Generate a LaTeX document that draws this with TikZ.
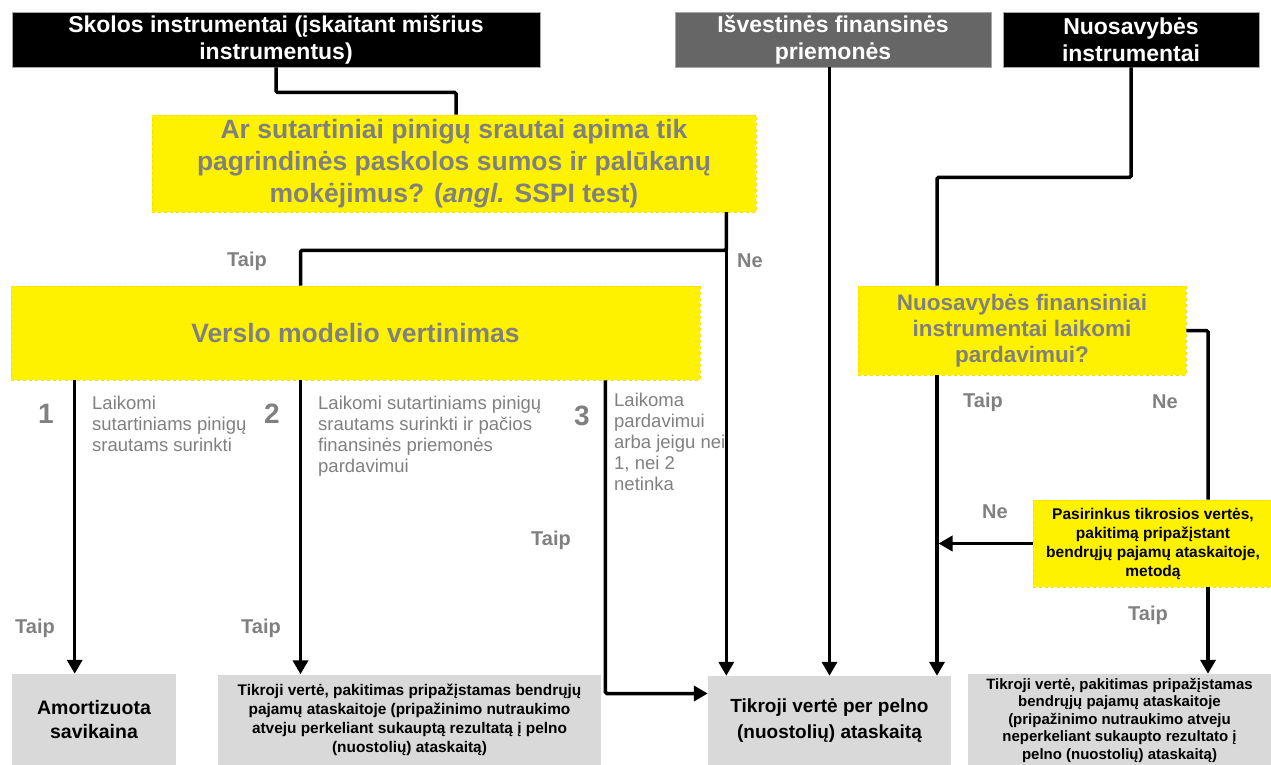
\documentclass[tikz,border=0pt]{standalone}
\usepackage{fontspec}
\setmainfont{Liberation Sans}
\usetikzlibrary{arrows.meta,positioning}
\definecolor{bright}{HTML}{FFF200}
\definecolor{textgray}{HTML}{808080}
\definecolor{boxgray}{HTML}{D9D9D9}
\definecolor{darkgray}{HTML}{666666}
\definecolor{frame}{HTML}{A6A6A6}
\tikzset{
  header/.style={
    draw=frame, line width=0.8pt, fill=black, text=white, align=center,
    font=\fontsize{23}{27}\selectfont\bfseries, inner sep=0pt, minimum height=55pt
  },
  question/.style={
    fill=bright, draw=bright!80!orange, dashed, line width=0.6pt, text=textgray,
    align=center, inner sep=0pt
  },
  result/.style={fill=boxgray, align=center, inner sep=0pt},
  link/.style={draw=black, line width=3.5pt, rounded corners=1.5pt},
  arrow/.style={link, -{Triangle[length=14pt,width=15pt]}},
  answer/.style={text=textgray, font=\fontsize{20}{24}\selectfont\bfseries, inner sep=0pt},
  number/.style={text=textgray, font=\fontsize{28}{30}\selectfont\bfseries, inner sep=0pt},
  note/.style={text=textgray, font=\fontsize{18.5}{21}\selectfont, align=left, anchor=north west, inner sep=0pt}
}
\begin{document}
\begin{tikzpicture}[x=1pt, y=-1pt]
  \useasboundingbox (0,0) rectangle (1271,765);

  % Instrument types
  \node[header, minimum width=528pt] (debt) at (276,39.5) {Skolos instrumentai (įskaitant mišrius\\instrumentus)};
  \node[header, fill=darkgray, minimum width=316pt] (deriv) at (833,39.5) {Išvestinės finansinės\\priemonės};
  \node[header, minimum width=256pt] (equity) at (1131,39.5) {Nuosavybės\\instrumentai};

  % Tests
  \node[question, minimum width=604pt, minimum height=97pt, font=\fontsize{26.5}{32}\selectfont\bfseries] (sppi) at (454,163.5) {Ar sutartiniai pinigų srautai apima tik\\pagrindinės paskolos sumos ir palūkanų\\mokėjimus? (\textit{angl.} SSPI test)};
  \node[question, minimum width=689pt, minimum height=94pt, font=\fontsize{26.5}{32}\selectfont\bfseries] (model) at (355.5,333) {Verslo modelio vertinimas};
  \node[question, minimum width=328pt, minimum height=89pt, font=\fontsize{22.5}{26}\selectfont\bfseries] (trading) at (1022,330.5) {Nuosavybės finansiniai\\instrumentai laikomi\\pardavimui?};
  \node[question, minimum width=240pt, minimum height=87pt, text=black, font=\fontsize{15.5}{19}\selectfont\bfseries] (option) at (1153,543.5) {Pasirinkus tikrosios vertės,\\pakitimą pripažįstant\\bendrųjų pajamų ataskaitoje,\\metodą};

  % Measurement results
  \node[result, minimum width=164pt, minimum height=91pt, font=\fontsize{19.5}{24}\selectfont\bfseries] (amort) at (94,719.5) {Amortizuota\\savikaina};
  \node[result, minimum width=383pt, minimum height=91pt, font=\fontsize{15.4}{19}\selectfont\bfseries] (fvoci) at (409.5,720) {Tikroji vertė, pakitimas pripažįstamas bendrųjų\\pajamų ataskaitoje (pripažinimo nutraukimo\\atveju perkeliant sukauptą rezultatą į pelno\\(nuostolių) ataskaitą)};
  \node[result, minimum width=243pt, minimum height=89pt, font=\fontsize{19}{26}\selectfont\bfseries] (fvpl) at (829.5,720.5) {Tikroji vertė per pelno\\(nuostolių) ataskaitą};
  \node[result, minimum width=303pt, minimum height=92pt, font=\fontsize{15}{17.5}\selectfont\bfseries] (fvocieq) at (1119.5,720) {Tikroji vertė, pakitimas pripažįstamas\\bendrųjų pajamų ataskaitoje\\(pripažinimo nutraukimo atveju\\neperkeliant sukaupto rezultato į\\pelno (nuostolių) ataskaitą)};

  % Branch columns
  \coordinate (nocol) at ([xshift=-30pt]sppi.south east);
  \coordinate (eqcol) at ([xshift=-85pt]trading.south);
  \coordinate (optcol) at ([xshift=55pt]option.north);

  % Connections
  \draw[link] (debt.south) -- ++(0,25) -| ([xshift=2pt]sppi.north);
  \draw[arrow] (fvpl.north |- deriv.south) -- (fvpl.north);
  \draw[link] (equity.south) -- ++(0,110) -| ([xshift=-85pt]trading.north);
  \draw[link] (nocol) -- ++(0,38) -| ([xshift=-55pt]model.north);
  \draw[arrow] (nocol) -- (nocol |- fvpl.north);
  \draw[arrow] ([xshift=64pt]model.south west) -- ([xshift=64pt]model.south west |- amort.north);
  \draw[arrow] ([xshift=-55pt]model.south) -- ([xshift=-55pt]model.south |- fvoci.north);
  \draw[arrow] ([xshift=-95pt]model.south east) |- ([yshift=27pt]fvpl.west);
  \draw[arrow] (eqcol) -- (eqcol |- fvpl.north);
  \draw[link] (trading.east) -| (optcol);
  \draw[arrow] (optcol |- option.south) -- (optcol |- fvocieq.north);
  \draw[arrow] (option.west) -- ([xshift=1.5pt]option.west -| eqcol);

  % Answers
  \node[answer] (yes1) at (247,261) {Taip};
  \node[answer] (no1) at (750,261) {Ne};
  \node[number] (n1) at (46,414) {1};
  \node[number] (n2) at (272,414) {2};
  \node[number] (n3) at (582,416) {3};
  \node[note] (c1) at (92,396) {Laikomi\\sutartiniams pinigų\\srautams surinkti};
  \node[note] (c2) at (318,396) {Laikomi sutartiniams pinigų\\srautams surinkti ir pačios\\finansinės priemonės\\pardavimui};
  \node[note] (c3) at (614,393) {Laikoma\\pardavimui\\arba jeigu nei\\1, nei 2\\netinka};
  \node[answer] (yes2) at (35,628) {Taip};
  \node[answer] (yes3) at (261,628) {Taip};
  \node[answer] (yes4) at (551,540) {Taip};
  \node[answer] (yes5) at (983,402) {Taip};
  \node[answer] (no2) at (1165,402) {Ne};
  \node[answer] (no3) at (995,512) {Ne};
  \node[answer] (yes6) at (1148,615) {Taip};
\end{tikzpicture}
\end{document}
